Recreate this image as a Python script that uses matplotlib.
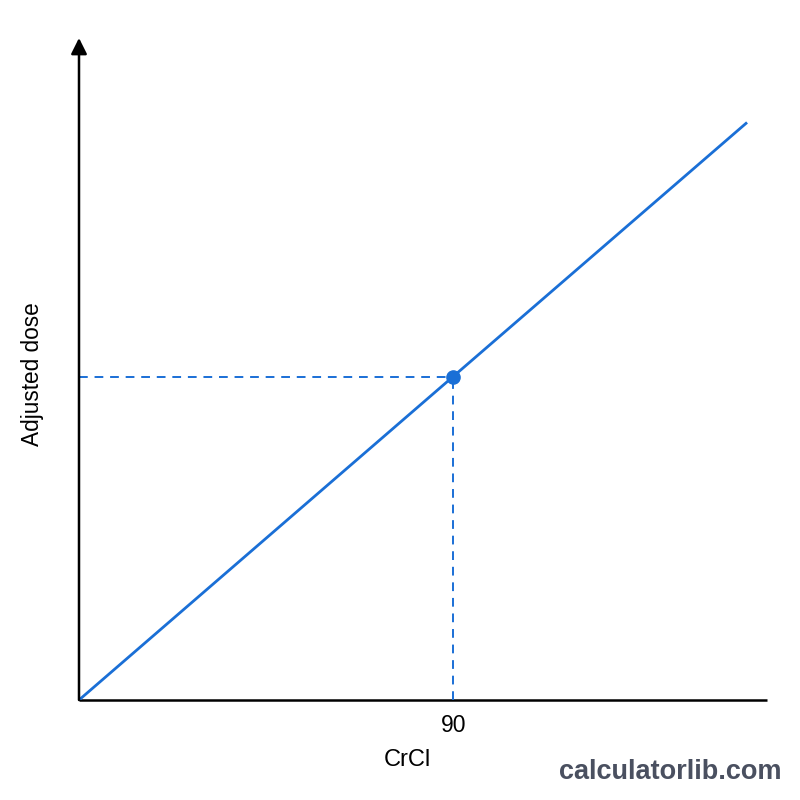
import matplotlib
matplotlib.use("Agg")
import matplotlib.pyplot as plt

plt.rcParams['font.family'] = ['Liberation Sans', 'DejaVu Sans']

# ── Data ──────────────────────────────────────────────────────────
crcl = [0, 160.7]
dose = [0, 160.7]
point_x = 90
point_y = 90
x_max = 165.5
y_max = 184.2

BLUE = '#1a6fd6'

fig = plt.figure(figsize=(8, 8), dpi=100)
ax = fig.add_axes([0.09875, 0.125, 0.86, 0.8275])
ax.set_xlim(0, x_max)
ax.set_ylim(0, y_max)
for s in ax.spines.values():
    s.set_visible(False)
ax.set_xticks([])
ax.set_yticks([])

# axes: x line, y arrow
ax.plot([0, x_max], [0, 0], color='black', lw=1.8, clip_on=False, solid_capstyle='butt')
ax.annotate('', xy=(0, y_max), xytext=(0, 0),
            arrowprops=dict(arrowstyle='-|>', color='black', lw=1.8,
                            mutation_scale=24, shrinkA=0, shrinkB=0),
            annotation_clip=False)

# main line
ax.plot(crcl, dose, color=BLUE, lw=2.0, solid_capstyle='butt')

# guides
ax.plot([0, point_x], [point_y, point_y], color=BLUE, lw=1.4, ls=(0, (4.5, 3.5)))
ax.plot([point_x, point_x], [0, point_y], color=BLUE, lw=1.4, ls=(0, (4.5, 3.5)))
ax.plot([point_x], [point_y], 'o', color=BLUE, markersize=9.5, zorder=5)

# labels
ax.text(point_x, -3.8, '90', ha='center', va='top', fontsize=16.5)
fig.text(407 / 800, 1 - 760 / 800, 'CrCl', ha='center', va='center', fontsize=17)
fig.text(33 / 800, 1 - 374 / 800, 'Adjusted dose', ha='center', va='center',
         rotation=90, fontsize=16.3)
fig.text(782 / 800, 1 - 772 / 800, 'calculatorlib.com', ha='right', va='center',
         fontsize=19.5, fontweight='bold', color='#4a5060')

fig.savefig('out.png', dpi=100, facecolor='white')
